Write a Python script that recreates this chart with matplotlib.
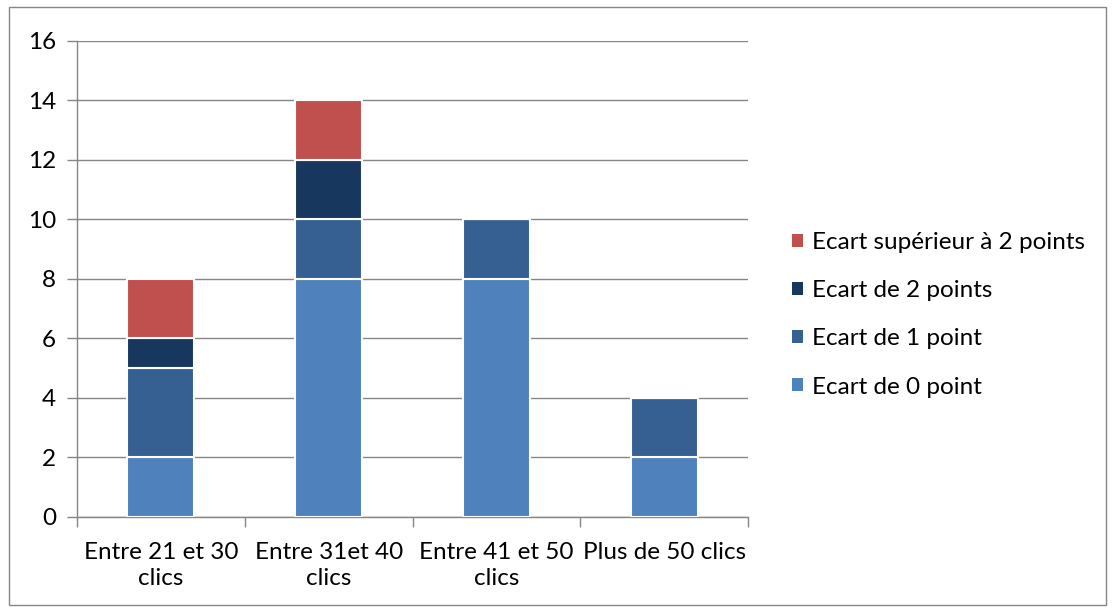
import matplotlib
matplotlib.use("Agg")
import matplotlib.pyplot as plt
from matplotlib.patches import Rectangle, Patch
import numpy as np

categories = ["Entre 21 et 30\nclics", "Entre 31et 40\nclics", "Entre 41 et 50\nclics", "Plus de 50 clics"]
series_names = ["Ecart de 0 point", "Ecart de 1 point", "Ecart de 2 points", "Ecart supérieur à 2 points"]
ecart_0 = [2, 8, 8, 2]
ecart_1 = [3, 2, 2, 2]
ecart_2 = [1, 2, 0, 0]
ecart_sup2 = [2, 2, 0, 0]
colors = ["#4F81BD", "#376092", "#17375E", "#C0504D"]
yticks = [0, 2, 4, 6, 8, 10, 12, 14, 16]

plt.rcParams['font.family'] = ['Lato', 'DejaVu Sans']
FS = 17.5

fig = plt.figure(figsize=(11.15, 6.1), dpi=100)
fig.patches.append(Rectangle((0.008, 0.008), 0.984, 0.980, transform=fig.transFigure,
                             fill=False, edgecolor="#868686", linewidth=1.0))
ax = fig.add_axes([0.0691, 0.1525, 0.6018, 0.7803])

x = np.arange(len(categories))
bottom = np.zeros(len(categories))
handles = []
for vals, name, col in zip([ecart_0, ecart_1, ecart_2, ecart_sup2], series_names, colors):
    vals = np.array(vals, dtype=float)
    ax.bar(x, vals, 0.4, bottom=bottom, color=col, edgecolor="white", linewidth=1.5, zorder=3)
    bottom += vals
    handles.append(Patch(facecolor=col, edgecolor="none"))

ax.set_xlim(-0.5, len(categories) - 0.5)
ax.set_ylim(0, 16)
ax.set_yticks(yticks)
ax.set_yticklabels([str(t) for t in yticks], fontsize=FS)
ax.set_xticks(x)
ax.set_xticklabels(categories, fontsize=FS, linespacing=1.3)
ax.tick_params(axis='x', which='major', length=0, pad=18)
ax.set_xticks(np.arange(-0.5, len(categories)), minor=True)
ax.tick_params(axis='x', which='minor', length=7, color="#868686", width=1)
ax.tick_params(axis='y', length=7, color="#868686", width=1, pad=8)
ax.grid(axis='y', color="#868686", linewidth=1, zorder=0)
for s in ['top', 'right']:
    ax.spines[s].set_visible(False)
for s in ['left', 'bottom']:
    ax.spines[s].set_color("#868686")
    ax.spines[s].set_linewidth(1)

fig.legend(handles[::-1], series_names[::-1], loc='center left', bbox_to_anchor=(0.691, 0.484),
           frameon=False, fontsize=FS, handlelength=0.45, handleheight=0.45, handletextpad=0.35,
           labelspacing=1.12)

fig.savefig("out.png", dpi=100)
